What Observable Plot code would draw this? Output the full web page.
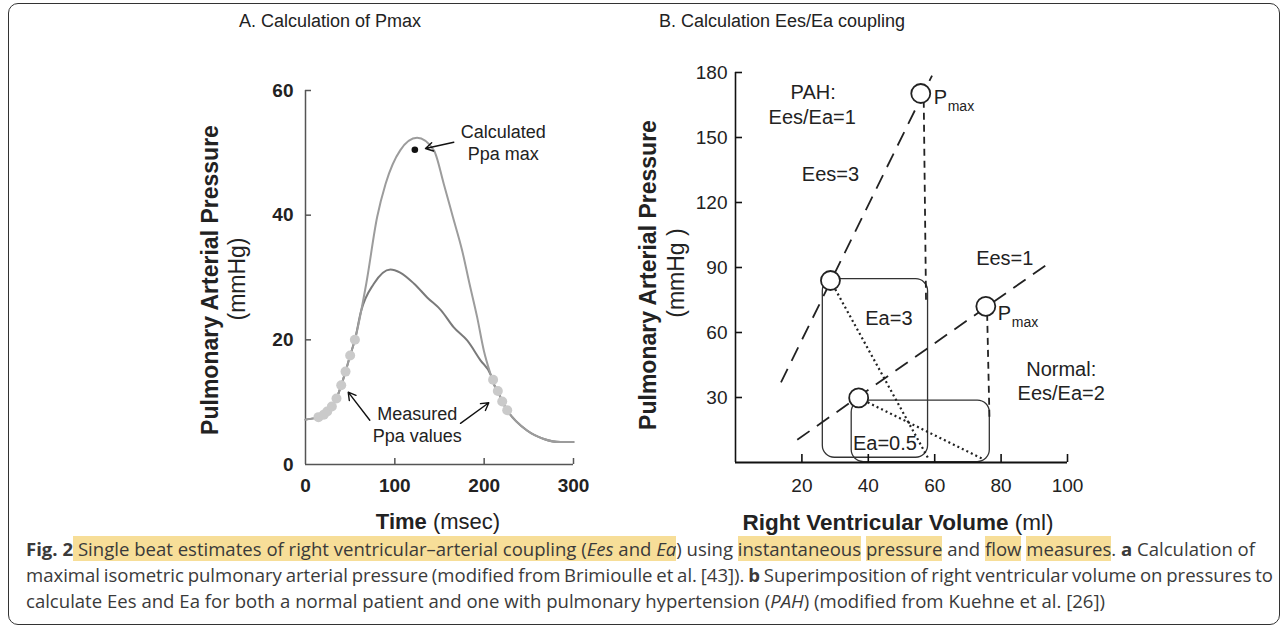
<!DOCTYPE html>
<html><head><meta charset="utf-8">
<script src="https://cdn.jsdelivr.net/npm/d3@7"></script>
<script src="https://cdn.jsdelivr.net/npm/@observablehq/plot@0.6"></script>
<style>
body{margin:0;background:#fff;}
#fig{position:relative;width:1287px;height:628px;overflow:hidden;font-family:"Liberation Sans",Arial,sans-serif;color:#222;background:#fff;}
#frame{position:absolute;left:8px;top:3px;width:1272px;height:622px;border:1.5px solid #333;border-radius:10px;box-sizing:border-box;}
.abs{position:absolute;white-space:nowrap;line-height:1;}
.c{transform:translate(-50%,-50%);}
.r{transform:translate(-50%,-50%) rotate(-90deg);}
.plot{position:absolute;top:0;}
#cap{position:absolute;left:26px;top:536px;font-family:"Open Sans",sans-serif;font-size:17.5px;line-height:26px;color:#3a3a3a;white-space:nowrap;}
#cap .hl{background:#f7de98;}
</style></head>
<body>
<div id="fig">
  <div id="frame"></div>
  <div class="abs c" style="left:330px;top:21px;font-size:18px;">A. Calculation of Pmax</div>
  <div class="abs c" style="left:782px;top:21px;font-size:18px;">B. Calculation Ees/Ea coupling</div>
  <div id="plotA" class="plot" style="left:0px"></div>
  <div id="plotB" class="plot" style="left:640px"></div>
  <div class="abs c" style="left:438px;top:522px;font-size:22px;"><b>Time</b> (msec)</div>
  <div class="abs c" style="left:898px;top:523px;font-size:22.5px;"><b>Right Ventricular Volume</b> (ml)</div>
  <div class="abs r" style="left:210px;top:280px;font-size:23px;font-weight:bold;">Pulmonary Arterial Pressure</div>
  <div class="abs r" style="left:237px;top:279px;font-size:23px;">(mmHg)</div>
  <div class="abs r" style="left:648px;top:275px;font-size:23px;font-weight:bold;">Pulmonary Arterial Pressure</div>
  <div class="abs r" style="left:676px;top:273px;font-size:23px;">(mmHg )</div>
  <div id="cap">
    <div class="cl"><b>Fig. 2</b><span class="hl"> Single beat estimates of right ventricular–arterial coupling (<i>Ees</i> and <i>Ea</i></span>) using <span class="hl">instantaneous</span> <span class="hl">pressure</span> and <span class="hl">flow</span> <span class="hl">measures</span>. <b>a</b> Calculation of</div>
    <div class="cl">maximal isometric pulmonary arterial pressure (modified from Brimioulle et al. [43]). <b>b</b> Superimposition of right ventricular volume on pressures to</div>
    <div class="cl">calculate Ees and Ea for both a normal patient and one with pulmonary hypertension (<i>PAH</i>) (modified from Kuehne et al. [26])</div>
  </div>
</div>
<script>
// ---------- Panel A data ----------
const upperT = [0, 9, 14.5, 20.5, 24.3, 29.5, 34.7, 40, 44.8, 50, 55.3, 68, 80.2, 89.6, 106, 124.9, 143.7, 154.8, 165, 175.4, 183.6, 192.2, 199.6, 207.6, 210.8, 215.3, 220.2, 225.8, 248, 266.8, 285.5, 300];
const upperP = [7.2, 7.4, 7.6, 8.0, 8.5, 9.3, 10.6, 12.7, 14.9, 17.5, 20, 29, 39.7, 45, 50.4, 52.4, 50.4, 45, 39.7, 34.3, 29, 23.6, 18.3, 14.3, 12.9, 11.8, 10.1, 8.7, 5.45, 4.1, 3.6, 3.6];
const lowerT = [0, 9, 14.5, 20.5, 24.3, 29.5, 34.7, 40, 44.8, 50, 55.3, 62, 76.5, 95, 106, 121.6, 136.2, 152, 166, 181, 195.9, 207.6, 210.8, 215.3, 220.2, 225.8, 248, 266.8, 285.5, 300];
const lowerP = [7.2, 7.4, 7.6, 8.0, 8.5, 9.3, 10.6, 12.7, 14.9, 17.5, 20, 24.5, 29, 31.3, 30.8, 29, 26.8, 24.7, 22, 19.9, 16.7, 14.3, 12.9, 11.8, 10.1, 8.7, 5.45, 4.1, 3.6, 3.6];
const measuredT = [14.5, 20.5, 24.3, 29.5, 34.7, 40, 44.8, 50, 55.3, 210, 215.3, 220.2, 225.8];
const measuredP = [7.6, 8.0, 8.5, 9.3, 10.6, 12.7, 14.9, 17.5, 20, 13.6, 11.8, 10.1, 8.7];
const calcT = [122.4];
const calcP = [50.5];
const ticksYA = [0, 20, 40, 60];
const ticksXA = [0, 100, 200, 300];
const notesA = ["Calculated", "Ppa max", "Measured", "Ppa values"];
const notesAT = [221.3, 221.3, 125, 125];
const notesAP = [53.3, 49.7, 8.1, 4.5];
const arrowsA_t1 = [166, 72, 173.5];
const arrowsA_p1 = [51.7, 7.1, 6.6];
const arrowsA_t2 = [134.3, 47.8, 205.2];
const arrowsA_p2 = [50.7, 11.6, 9.9];

// ---------- Panel B data ----------
const ticksYB = [30, 60, 90, 120, 150, 180];
const ticksXB = [20, 40, 60, 80, 100];
const eesLines = ["PAH Ees=3", "Normal Ees=1"];
const eesV1 = [13.7, 18.6], eesP1 = [37, 10.5], eesV2 = [59.2, 95.2], eesP2 = [178.6, 92.9];
const dropV1 = [56.7, 75.8], dropP1 = [167, 68.6], dropV2 = [57.4, 76.5], dropP2 = [73.2, 20.1];
const eaV1 = [28.6, 37.1], eaP1 = [84, 29.8], eaV2 = [58.3, 74.4], eaP2 = [1.2, 1.7];
const loopV1 = [26.3, 35], loopV2 = [58, 76.6], loopP1 = [2.2, 0.2], loopP2 = [84.6, 28.6];
const pointsV = [28.6, 55.8, 37.1, 75.4];
const pointsP = [84, 170.3, 29.8, 72.1];
const labelsB = ["PAH:", "Ees/Ea=1", "Ees=3", "Ees=1", "Ea=3", "Ea=0.5", "Normal:", "Ees/Ea=2"];
const labelsBV = [23.4, 23.1, 28.6, 81.1, 46.2, 45, 98.1, 98.1];
const labelsBP = [170.5, 159.3, 132.7, 94.2, 66.6, 8.6, 42.8, 31.7];
const pmaxV = [59.7, 79];
const pmaxP = [168.5, 68.9];

const zip = (a, b) => a.map((v, i) => ({x: v, y: b[i]}));
const font = "Liberation Sans, Arial, sans-serif";

// ---------- Panel A ----------
const wA = 640, hA = 540, mlA = 305, mrA = 67, mtA = 90, mbA = 76;
const kxA = (wA - mlA - mrA) / 300, kyA = (hA - mtA - mbA) / 60;
const plotA = Plot.plot({
  width: wA, height: hA, marginLeft: mlA, marginRight: mrA, marginTop: mtA, marginBottom: mbA,
  x: {domain: [0, 300]}, y: {domain: [0, 60]},
  style: {fontFamily: font, fontSize: "19px", color: "#222", background: "transparent", overflow: "visible"},
  marks: [
    Plot.ruleX([0], {y1: 0, y2: 60, stroke: "#555", strokeWidth: 1.5}),
    Plot.ruleY([0], {x1: 0, x2: 300, stroke: "#555", strokeWidth: 1.5}),
    Plot.ruleY(ticksYA.slice(1), {x1: 0, x2: 6 / kxA, stroke: "#555", strokeWidth: 1.5}),
    Plot.ruleX(ticksXA.slice(1), {y1: 0, y2: 6 / kyA, stroke: "#555", strokeWidth: 1.5}),
    Plot.axisY(ticksYA, {tickSize: 0, tickPadding: 12, fontWeight: "bold", fontSize: 19, label: null}),
    Plot.axisX(ticksXA, {tickSize: 0, tickPadding: 14, fontWeight: "bold", fontSize: 19, label: null}),
    Plot.line(zip(lowerT, lowerP), {x: "x", y: "y", stroke: "#7a7a7a", strokeWidth: 2, curve: "monotone-x"}),
    Plot.line(zip(upperT, upperP), {x: "x", y: "y", stroke: "#9c9c9c", strokeWidth: 2, curve: "monotone-x"}),
    Plot.dot(zip(measuredT, measuredP), {x: "x", y: "y", r: 5, fill: "#cacaca"}),
    Plot.dot(zip(calcT, calcP), {x: "x", y: "y", r: 3.3, fill: "#111"}),
    Plot.arrow(arrowsA_t1.map((t, i) => ({x1: t, y1: arrowsA_p1[i], x2: arrowsA_t2[i], y2: arrowsA_p2[i]})),
      {x1: "x1", y1: "y1", x2: "x2", y2: "y2", stroke: "#111", strokeWidth: 1.4, headLength: 9, bend: 0}),
    Plot.text(notesA.map((s, i) => ({s, x: notesAT[i], y: notesAP[i]})), {x: "x", y: "y", text: "s", fontSize: 18, fill: "#222"})
  ]
});
document.getElementById("plotA").append(plotA);

// ---------- Panel B ----------
const wB = 647, hB = 540, mlB = 95, mrB = 220, mtB = 72, mbB = 78;
const kxB = (wB - mlB - mrB) / 100, kyB = (hB - mtB - mbB) / 180;
const plotB = Plot.plot({
  width: wB, height: hB, marginLeft: mlB, marginRight: mrB, marginTop: mtB, marginBottom: mbB,
  x: {domain: [0, 100]}, y: {domain: [0, 180]},
  style: {fontFamily: font, fontSize: "19px", color: "#222", background: "transparent", overflow: "visible"},
  marks: [
    Plot.rect(loopV1.map((v, i) => ({x1: v, x2: loopV2[i], y1: loopP1[i], y2: loopP2[i]})),
      {x1: "x1", x2: "x2", y1: "y1", y2: "y2", rx: 12, fill: "none", stroke: "#333", strokeWidth: 1.3}),
    Plot.ruleX([0], {y1: 0, y2: 180, stroke: "#111", strokeWidth: 1.6}),
    Plot.ruleY([0], {x1: 0, x2: 100, stroke: "#111", strokeWidth: 2.2}),
    Plot.ruleY(ticksYB, {x1: 0, x2: 7 / kxB, stroke: "#111", strokeWidth: 1.6}),
    Plot.ruleX(ticksXB, {y1: 0, y2: 8 / kyB, stroke: "#111", strokeWidth: 1.6}),
    Plot.axisY(ticksYB, {tickSize: 0, tickPadding: 8, fontSize: 19, label: null}),
    Plot.axisX(ticksXB, {tickSize: 0, tickPadding: 16, fontSize: 19, label: null}),
    Plot.link(eesLines.map((s, i) => ({x1: eesV1[i], y1: eesP1[i], x2: eesV2[i], y2: eesP2[i]})),
      {x1: "x1", y1: "y1", x2: "x2", y2: "y2", stroke: "#222", strokeWidth: 1.8, strokeDasharray: "15,9"}),
    Plot.link(dropV1.map((v, i) => ({x1: v, y1: dropP1[i], x2: dropV2[i], y2: dropP2[i]})),
      {x1: "x1", y1: "y1", x2: "x2", y2: "y2", stroke: "#222", strokeWidth: 1.8, strokeDasharray: "7,5"}),
    Plot.link(eaV1.map((v, i) => ({x1: v, y1: eaP1[i], x2: eaV2[i], y2: eaP2[i]})),
      {x1: "x1", y1: "y1", x2: "x2", y2: "y2", stroke: "#222", strokeWidth: 2.2, strokeDasharray: "2,3"}),
    Plot.dot(zip(pointsV, pointsP), {x: "x", y: "y", r: 9.5, fill: "white", stroke: "#222", strokeWidth: 1.8}),
    Plot.text(labelsB.map((s, i) => ({s, x: labelsBV[i], y: labelsBP[i]})), {x: "x", y: "y", text: "s", fontSize: 20, fill: "#222"}),
    Plot.text(zip(pmaxV, pmaxP), {x: "x", y: "y", text: () => "P", textAnchor: "start", fontSize: 20, fill: "#222"}),
    Plot.text(zip(pmaxV, pmaxP), {x: "x", y: "y", text: () => "max", textAnchor: "start", dx: 14, dy: 9, fontSize: 14, fill: "#222"})
  ]
});
document.getElementById("plotB").append(plotB);

// fit caption lines to the reference line lengths
const cap = document.getElementById("cap");
const lines = [...document.querySelectorAll("#cap .cl")];
const targets = [1229, 1247, 1079];
const widthOf = el => { const r = document.createRange(); r.selectNodeContents(el); return r.getBoundingClientRect().width; };
cap.style.fontSize = (17.5 * targets[0] / widthOf(lines[0])) + "px";
lines.forEach((el, i) => {
  const w = widthOf(el);
  const spaces = (el.textContent.match(/ /g) || []).length;
  if (spaces) el.style.wordSpacing = ((targets[i] - w) / spaces) + "px";
});
</script>
</body></html>
